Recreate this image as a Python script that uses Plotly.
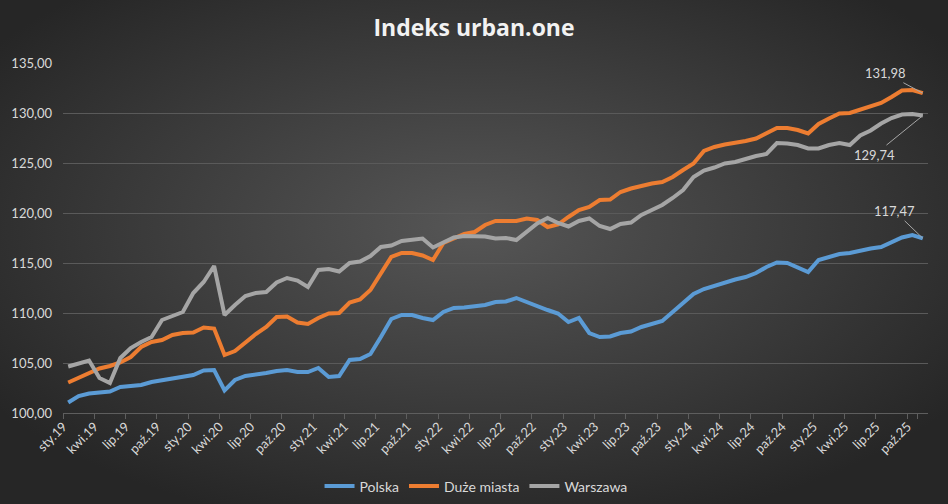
import base64
import plotly.graph_objects as go

# month categories sty.19 .. lis.25
month_abbr = ['sty', 'lut', 'mar', 'kwi', 'maj', 'cze', 'lip', 'sie', 'wrz', 'paź', 'lis', 'gru']
years = ['19', '20', '21', '22', '23', '24', '25']
months = [m + '.' + y for y in years for m in month_abbr][:83]
tick_labels = months[::3]

polska = [101.05, 101.7, 101.95, 102.0, 102.15, 102.6, 102.65, 102.8, 103.1, 103.3,
          103.5, 103.65, 103.8, 104.25, 104.3, 102.25, 103.3, 103.7, 103.8, 104.0,
          104.2, 104.3, 104.1, 104.1, 104.5, 103.6, 103.7, 105.3, 105.4, 105.9,
          107.6, 109.4, 109.8, 109.8, 109.5, 109.3, 110.1, 110.5, 110.55, 110.65,
          110.8, 111.1, 111.15, 111.5, 111.1, 110.6, 110.3, 109.95, 109.1, 109.5,
          108.0, 107.6, 107.65, 108.0, 108.15, 108.6, 108.95, 109.2, 110.1, 111.0,
          111.9, 112.4, 112.75, 113.05, 113.35, 113.6, 114.0, 114.6, 115.05, 115.0,
          114.6, 114.1, 115.3, 115.6, 115.9, 116.0, 116.25, 116.45, 116.6, 117.1,
          117.55, 117.8, 117.47]

duze_miasta = [103.05, 103.5, 104.0, 104.45, 104.7, 105.05, 105.6, 106.6, 107.1, 107.3,
               107.8, 108.0, 108.05, 108.55, 108.45, 105.8, 106.2, 107.1, 107.9, 108.6,
               109.6, 109.65, 109.05, 108.9, 109.5, 109.95, 110.0, 111.05, 111.35, 112.3,
               114.0, 115.6, 116.0, 116.0, 115.75, 115.3, 117.0, 117.5, 117.9, 118.1,
               118.8, 119.2, 119.25, 119.2, 119.45, 119.3, 118.6, 118.85, 119.6, 120.3,
               120.6, 121.3, 121.35, 122.1, 122.45, 122.75, 122.95, 123.1, 123.6, 124.3,
               124.95, 126.2, 126.6, 126.85, 127.0, 127.2, 127.45, 127.95, 128.5, 128.5,
               128.3, 127.95, 128.9, 129.45, 129.95, 130.0, 130.3, 130.65, 131.0, 131.6,
               132.25, 132.3, 131.98]

warszawa = [104.65, 105.0, 105.25, 103.5, 103.0, 105.5, 106.5, 107.1, 107.6, 109.3,
            109.7, 110.1, 112.0, 113.1, 114.7, 109.8, 110.8, 111.7, 112.0, 112.1,
            113.05, 113.5, 113.25, 112.6, 114.3, 114.4, 114.15, 115.0, 115.15, 115.7,
            116.6, 116.75, 117.2, 117.35, 117.45, 116.55, 117.1, 117.55, 117.7, 117.7,
            117.65, 117.45, 117.5, 117.3, 118.1, 118.95, 119.5, 119.0, 118.65, 119.2,
            119.45, 118.7, 118.4, 118.9, 119.05, 119.8, 120.3, 120.8, 121.5, 122.3,
            123.6, 124.25, 124.55, 124.95, 125.1, 125.45, 125.7, 125.9, 127.0, 126.95,
            126.8, 126.45, 126.45, 126.8, 127.0, 126.8, 127.75, 128.25, 128.95, 129.5,
            129.85, 129.9, 129.74]

series = [('Polska', polska, '#5b9bd5'),
          ('Duże miasta', duze_miasta, '#ed7d31'),
          ('Warszawa', warszawa, '#a5a5a5')]

fig = go.Figure()
for name, vals, color in series:
    fig.add_trace(go.Scatter(x=months, y=vals, name=name, mode='lines',
                             line=dict(color=color, width=4)))

# radial gradient background
svg = ('<svg xmlns="http://www.w3.org/2000/svg" width="948" height="504" preserveAspectRatio="none">'
       '<defs><radialGradient id="g" cx="50%" cy="45%" r="62%">'
       '<stop offset="0%" stop-color="#565656"/>'
       '<stop offset="100%" stop-color="#262626"/></radialGradient></defs>'
       '<rect width="948" height="504" fill="url(#g)"/></svg>')
bg = 'data:image/svg+xml;base64,' + base64.b64encode(svg.encode()).decode()

txt = '#d9d9d9'
labels = [(polska[-1], -28, -27), (duze_miasta[-1], -37, -20), (warszawa[-1], -48, 39)]
for val, ax, ay in labels:
    fig.add_annotation(x=months[-1], y=val, text=f'{val:.2f}'.replace('.', ','),
                       showarrow=True, arrowhead=0, arrowwidth=1, arrowcolor='#a6a6a6',
                       ax=ax, ay=ay, font=dict(size=13, color=txt))

fig.update_layout(
    width=948, height=504,
    margin=dict(l=63, r=20, t=63, b=91, autoexpand=False),
    paper_bgcolor='#2a2a2a', plot_bgcolor='rgba(0,0,0,0)',
    font=dict(family='Lato, Open Sans, sans-serif', size=13, color=txt),
    separators=', ',
    title=dict(text='<b>Indeks urban.one</b>', x=0.5, xanchor='center', y=0.945, yanchor='middle',
               font=dict(family='Open Sans', size=23, color='#f2f2f2')),
    images=[dict(source=bg, xref='paper', yref='paper', x=-63 / 865, y=1 + 63 / 350,
                 sizex=948 / 865, sizey=504 / 350, xanchor='left', yanchor='top',
                 sizing='stretch', layer='below')],
    showlegend=True,
    legend=dict(orientation='h', x=0.4775, xanchor='center', y=-0.21,
                yanchor='middle', font=dict(size=14, color=txt), itemwidth=30,
                bgcolor='rgba(0,0,0,0)'),
    xaxis=dict(type='category', range=[-0.5, 82.5], tickvals=tick_labels, ticktext=tick_labels,
               tickangle=-45, tickson='boundaries', showgrid=False, showline=True,
               linecolor='#5e5e5e', linewidth=1, ticks='outside', ticklen=5,
               tickcolor='#5e5e5e', ticklabelshift=-5, tickfont=dict(size=13, color=txt)),
    yaxis=dict(range=[100, 135], dtick=5, tickformat='.2f', showgrid=True, gridcolor='#5a5a5a',
               gridwidth=1, zeroline=False, showline=False, ticks='', ticklabelstandoff=10,
               tickfont=dict(size=13, color=txt)),
)

fig.write_html('out.html', config={'displayModeBar': False},
               post_script="document.body.style.margin='0';document.body.style.overflow='hidden';")
